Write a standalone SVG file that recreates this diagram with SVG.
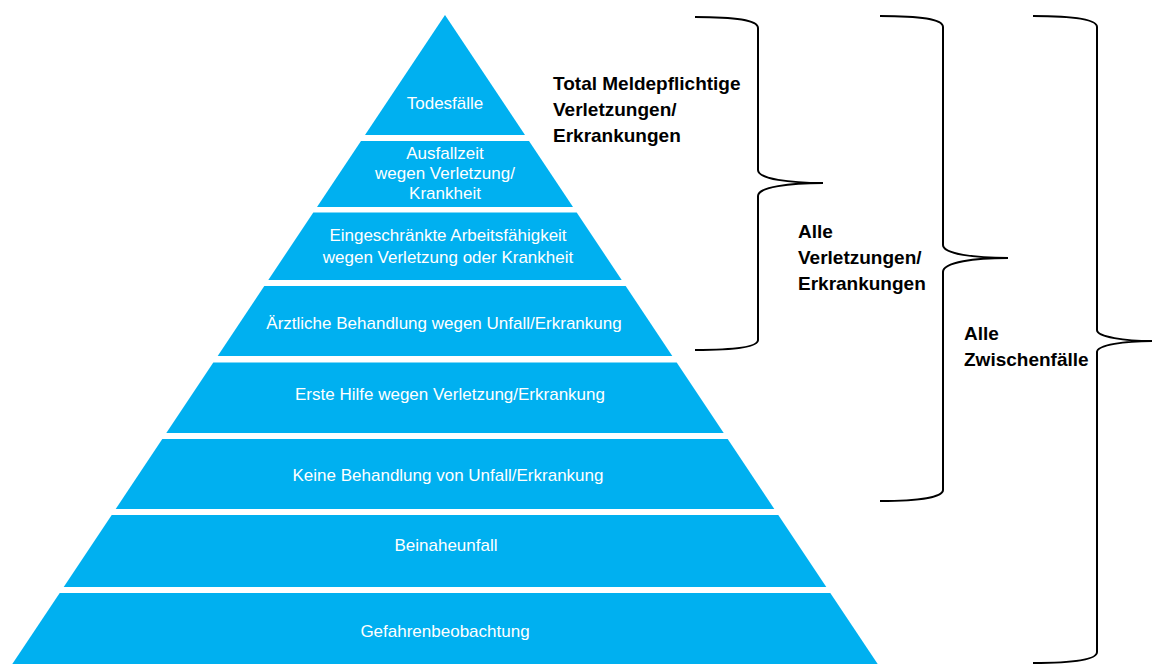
<svg xmlns="http://www.w3.org/2000/svg" width="1152" height="664" viewBox="0 0 1152 664">
<style>
.band{fill:#00B0F0;}
.bt{font-family:"Liberation Sans",Arial,sans-serif;font-size:17px;fill:#FFFFFF;text-anchor:middle;}
.lbl{font-family:"Liberation Sans",Arial,sans-serif;font-size:19px;font-weight:bold;fill:#000000;}
.brace{fill:none;stroke:#000000;stroke-width:2;}
</style>
<rect width="1152" height="664" fill="#FFFFFF"/>
<g id="level1">
<polygon class="band" points="445,15 525,135 365,135"/>
<text class="bt" x="445" y="109">Todesfälle</text>
</g>
<g id="level2">
<polygon class="band" points="361,141 529,141 573,207 317,207"/>
<text class="bt" x="445" y="159">Ausfallzeit</text>
<text class="bt" x="445" y="179">wegen Verletzung/</text>
<text class="bt" x="445" y="199">Krankheit</text>
</g>
<g id="level3">
<polygon class="band" points="313.3,212.5 576.7,212.5 621.7,280 268.3,280"/>
<text class="bt" x="448" y="241">Eingeschränkte Arbeitsfähigkeit</text>
<text class="bt" x="448" y="263">wegen Verletzung oder Krankheit</text>
</g>
<g id="level4">
<polygon class="band" points="264.3,286 625.7,286 672.3,356 217.7,356"/>
<text class="bt" x="444" y="329">Ärztliche Behandlung wegen Unfall/Erkrankung</text>
</g>
<g id="level5">
<polygon class="band" points="213.3,362.5 676.7,362.5 723.7,433 166.3,433"/>
<text class="bt" x="450" y="400">Erste Hilfe wegen Verletzung/Erkrankung</text>
</g>
<g id="level6">
<polygon class="band" points="162.3,439 727.7,439 774.3,509 115.7,509"/>
<text class="bt" x="448" y="481">Keine Behandlung von Unfall/Erkrankung</text>
</g>
<g id="level7">
<polygon class="band" points="111.7,515 778.3,515 826.3,587 63.7,587"/>
<text class="bt" x="446" y="551">Beinaheunfall</text>
</g>
<g id="level8">
<polygon class="band" points="59.7,593 830.3,593 881.7,670 8.3,670"/>
<text class="bt" x="445" y="637">Gefahrenbeobachtung</text>
</g>
<g id="connectors">
<path class="brace" d="M695,17 C735,17 758,20 758,28 L758,170 C758,179 790,183 823,183 C790,183 758,187 758,196 L758,340 C758,347 735,350 695,350"/>
<path class="brace" d="M880,16 C920,16 943,19 943,27 L943,245 C943,254 975,258 1008,258 C975,258 943,262 943,272 L943,490 C943,497 920,501 880,501"/>
<path class="brace" d="M1033,16 C1073,16 1097,19 1097,27 L1097,330 C1097,337 1125,341 1152,341 C1125,341 1097,345 1097,352 L1097,652 C1097,660 1073,663 1033,663"/>
</g>
<g id="label-meldepflichtig">
<text class="lbl" x="553" y="90">Total Meldepflichtige</text>
<text class="lbl" x="553" y="116">Verletzungen/</text>
<text class="lbl" x="553" y="142">Erkrankungen</text>
</g>
<g id="label-alle-verletzungen">
<text class="lbl" x="798" y="238">Alle</text>
<text class="lbl" x="798" y="264">Verletzungen/</text>
<text class="lbl" x="798" y="290">Erkrankungen</text>
</g>
<g id="label-alle-zwischenfaelle">
<text class="lbl" x="964" y="340">Alle</text>
<text class="lbl" x="964" y="366">Zwischenfälle</text>
</g>
</svg>
